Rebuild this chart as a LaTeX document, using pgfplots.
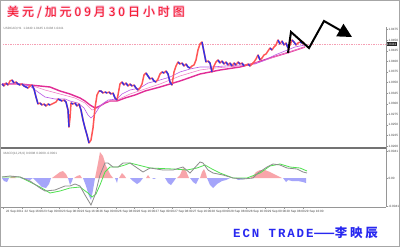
\documentclass[border=0pt]{standalone}
\usepackage{pgfplots}
\pgfplotsset{compat=1.18}
\usepackage{fontspec}
\setmainfont{Liberation Sans}
\newfontfamily\cjkplain{Noto Sans CJK SC}
\newfontfamily\cjkls[LetterSpace=25]{Noto Sans CJK SC}
\newfontfamily\cjkmid[LetterSpace=22]{Noto Sans CJK SC}
\newfontfamily\monols[LetterSpace=15]{Liberation Mono}
\usetikzlibrary{arrows.meta}

\definecolor{bullred}{RGB}{255,85,85}
\definecolor{bearblue}{RGB}{50,50,230}
\definecolor{maslow}{RGB}{225,45,150}
\definecolor{mamid}{RGB}{240,130,200}
\definecolor{mafast}{RGB}{185,90,230}
\definecolor{askdot}{RGB}{245,160,180}
\definecolor{macdgray}{RGB}{140,140,140}
\definecolor{signalgreen}{RGB}{80,225,80}
\definecolor{histred}{RGB}{248,165,170}
\definecolor{histblue}{RGB}{165,165,250}
\definecolor{titlered}{RGB}{245,20,40}
\definecolor{titlepink}{RGB}{250,185,210}
\definecolor{ecnblue}{RGB}{40,40,240}
\definecolor{framegray}{RGB}{150,150,150}

\newcommand\tinyfont{\fontsize{3.1}{3.6}\selectfont}

\begin{document}
\begin{tikzpicture}
\useasboundingbox (0,0) rectangle (400bp,-247bp);
\fill[white] (0,0) rectangle (400bp,-247bp);

% ---------- price panel (H1 candles and moving averages) ----------
\begin{axis}[
  at={(3bp,-147bp)}, anchor=south west,
  scale only axis, width=383bp, height=147bp,
  xmin=3, xmax=386, ymin=0, ymax=147, y dir=reverse,
  axis line style={draw=none},
  clip=false,
  xtick=\empty,
  ytick={29.5,40.1,50.7,61.3,71.9,82.5,93.1,103.7,114.3,124.9,135.5,146.1},
  yticklabels={1.0475,1.0450,1.0425,1.0400,1.0375,1.0350,1.0325,1.0300,1.0275,1.0250,1.0225,1.0200},
  ytick pos=right, yticklabel pos=right,
  tick align=outside, major tick length=1.5bp,
  tick style={framegray, line width=0.3bp},
  yticklabel style={font=\tinyfont, text=black!75, xshift=-2.5bp},
  /pgf/number format/assume math mode=true,
  unbounded coords=jump,
]
% current ask level
\addplot[askdot, densely dotted, line width=0.7bp] coordinates {(3,44) (386,44)};

% moving averages
\addplot[maslow, line width=1.4bp] coordinates {
 (2,84) (20,84) (40,86) (50,87) (60,91) (70,94) (80,98) (85,101) (90,105)
 (95,108) (100,106) (105,103) (110,101) (117,101) (125,98) (135,95) (145,91)
 (160,87) (180,81) (200,74) (220,70) (240,67) (255,63) (270,58) (290,52) (305,47)};
\addplot[mamid, line width=0.6bp] coordinates {
 (2,84) (30,85) (45,90) (60,94) (75,98) (85,103) (92,110) (98,108) (105,102)
 (117,100) (130,94) (145,89) (160,84) (180,76) (200,70) (215,68) (240,66)
 (260,62) (280,55) (305,47)};
\addplot[mafast, line width=0.6bp] coordinates {
 (2,84) (15,83) (30,86) (38,92) (45,97) (55,99) (65,99) (70,101) (78,103)
 (84,108) (88,115) (91,118) (95,114) (100,106) (108,100) (117,99) (122,94)
 (130,90) (140,88) (148,83) (160,80) (170,77) (180,72) (190,69) (200,67)
 (212,67) (225,66) (240,65) (255,64) (265,60) (275,55) (285,51) (295,47) (305,45)};

% price path (rising legs)
\addplot[bullred, line width=1.5bp, line join=round] coordinates {
 (2,84) (4,86) (6,83) (8,85) (10,81) (12,80) (14,83) (16,82) (18,84) (20,85)
 (22,84) (24,86) (26,87) (28,88) (30,86) (32,85) (34,89) (36,97) (38,104)
 (40,103) (42,105) (44,104) (46,106) (48,104) (50,105) (52,104) (54,103)
 (56,102) (58,99) (60,100) (62,101) (64,100) (66,102) (68,110) (69,127)
 (70,118) (71,103) (73,104) (75,103) (77,106) (79,104) (81,110) (83,120)
 (85,128) (87,135) (89,143) (91,140) (93,128) (95,108) (97,95) (99,91)
 (101,91) (103,93) (105,92) (107,93) (109,92) (111,94) (113,93) (115,98)
 (117,100) (118,95) (120,84) (122,82) (124,85) (126,83) (128,86) (130,84)
 (132,86) (134,85) (136,88) (138,90) (140,88) (142,84) (144,75) (146,73)
 (148,76) (150,79) (152,78) (154,81) (156,82) (158,79) (160,74) (162,72)
 (164,73) (166,71) (168,74) (170,82) (172,85) (174,72) (176,66) (178,62)
 (180,64) (182,63) (184,66) (186,64) (188,67) (190,68) (192,66) (194,65)
 (196,60) (198,50) (200,44) (202,42) (204,52) (206,62) (208,61) (210,63)
 (212,72) (214,66) (216,62) (218,60) (220,63) (222,61) (224,64) (226,62)
 (228,65) (230,63) (232,66) (234,63) (236,65) (238,62) (240,64) (242,63)
 (244,66) (246,65) (248,64) (250,66) (252,64) (254,62) (256,59) (258,55)
 (260,60) (262,58) (264,55) (266,54) (268,51) (270,48) (272,50) (274,47)
 (276,45) (278,40) (280,44) (282,41) (284,45) (286,43) (288,48) (290,45)
 (292,40) (294,42) (296,45) (298,43) (300,42) (302,43) (304,42)};

% price path (falling legs)
\addplot[bearblue, line width=1.4bp, line join=round] coordinates {
 (2,84) (4,86) (nan,nan) (6,83) (8,85) (nan,nan) (12,80) (14,83) (nan,nan)
 (16,82) (18,84) (20,85) (nan,nan) (22,84) (24,86) (26,87) (28,88) (nan,nan)
 (32,85) (34,89) (36,97) (38,104) (nan,nan) (40,103) (42,105) (nan,nan)
 (44,104) (46,106) (nan,nan) (48,104) (50,105) (nan,nan)
 (58,99) (60,100) (62,101) (nan,nan) (64,100) (66,102) (68,110) (69,127) (nan,nan)
 (71,103) (73,104) (nan,nan) (75,103) (77,106) (nan,nan)
 (79,104) (81,110) (83,120) (85,128) (87,135) (89,143) (nan,nan)
 (99,91) (101,91) (103,93) (nan,nan) (105,92) (107,93) (nan,nan)
 (109,92) (111,94) (nan,nan) (113,93) (115,98) (117,100) (nan,nan)
 (122,82) (124,85) (nan,nan) (126,83) (128,86) (nan,nan) (130,84) (132,86) (nan,nan)
 (134,85) (136,88) (138,90) (nan,nan) (146,73) (148,76) (150,79) (nan,nan)
 (152,78) (154,81) (156,82) (nan,nan) (162,72) (164,73) (nan,nan)
 (166,71) (168,74) (170,82) (172,85) (nan,nan) (178,62) (180,64) (nan,nan)
 (182,63) (184,66) (nan,nan) (186,64) (188,67) (190,68) (nan,nan)
 (202,42) (204,52) (206,62) (nan,nan) (208,61) (210,63) (212,72) (nan,nan)
 (218,60) (220,63) (nan,nan) (222,61) (224,64) (nan,nan) (226,62) (228,65) (nan,nan)
 (230,63) (232,66) (nan,nan) (234,63) (236,65) (nan,nan) (238,62) (240,64) (nan,nan)
 (242,63) (244,66) (nan,nan) (248,64) (250,66) (nan,nan) (258,55) (260,60) (nan,nan)
 (270,48) (272,50) (nan,nan) (278,40) (280,44) (nan,nan) (282,41) (284,45) (nan,nan)
 (286,43) (288,48) (nan,nan) (292,40) (294,42) (296,45) (nan,nan) (300,42) (302,43)};

% projected path
\addplot[black, line width=2bp, line join=miter,
  -{Triangle[length=14bp,width=14bp]}] coordinates {
 (288,53) (291,32) (309,48) (324,21) (352,37)};

\node[fill=black!85, text=white, font=\tinyfont, inner sep=0.7bp, anchor=west]
  at (axis cs:386,44) {1.0441};
\end{axis}

% ---------- MACD panel ----------
\begin{axis}[
  at={(3bp,-207bp)}, anchor=south west,
  scale only axis, width=383bp, height=58bp,
  xmin=3, xmax=386, ymin=-29, ymax=29,
  axis line style={draw=none},
  clip=false,
  ytick={27,0,-28},
  yticklabels={0.0041,0.00,-0.0041},
  ytick pos=right, yticklabel pos=right,
  xtick={3.5,22.2,40.9,59.6,78.3,97,115.7,134.4,153.1,171.8,190.5,209.2,227.9,246.6,265.3,284,302.7},
  xticklabels={22 Sep 2011,22 Sep 16:00,23 Sep 00:00,23 Sep 08:00,23 Sep 16:00,
    26 Sep 00:00,26 Sep 08:00,26 Sep 16:00,27 Sep 00:00,27 Sep 08:00,27 Sep 16:00,
    28 Sep 00:00,28 Sep 08:00,28 Sep 16:00,29 Sep 00:00,29 Sep 08:00,29 Sep 16:00},
  xtick pos=bottom,
  tick align=outside, major tick length=1.5bp,
  tick style={framegray, line width=0.3bp},
  yticklabel style={font=\tinyfont, text=black!75, xshift=-2.5bp},
  xticklabel style={font=\tinyfont, text=black!75, anchor=north west, xshift=-1bp, yshift=2bp},
  /pgf/number format/assume math mode=true,
  unbounded coords=jump,
]
% histogram above zero
\addplot[fill=histred, draw=none] coordinates {
 (10,0) (12,2) (15,1) (16,0) (nan,nan)
 (52,0) (56,3) (60,6) (63,7) (66,4) (68,0) (nan,nan)
 (74,0) (77,2) (80,3) (82,0) (nan,nan)
 (95,0) (98,15) (100,26) (103,22) (106,12) (110,4) (113,0) (nan,nan)
 (119,0) (122,5) (124,3) (126,0) (nan,nan)
 (146,0) (148,3) (150,0) (nan,nan)
 (177,0) (180,3) (183,10) (186,7) (189,0) (nan,nan)
 (200,0) (202,6) (204,9) (206,4) (207,0) (nan,nan)
 (250,0) (253,2) (256,6) (260,8) (265,8) (270,6) (276,3) (282,0)};
% histogram below zero
\addplot[fill=histblue, draw=none] coordinates {
 (2,0) (4,-3) (7,-4) (9,0) (nan,nan)
 (20,0) (25,-1) (30,-2) (33,0) (nan,nan)
 (33,0) (37,-4) (42,-9) (46,-10) (49,-6) (51,0) (nan,nan)
 (68,0) (70,-7) (72,-3) (73,0) (nan,nan)
 (83,0) (86,-8) (89,-18) (91,-22) (93,-12) (95,0) (nan,nan)
 (115,0) (117,-5) (118,0) (nan,nan)
 (130,0) (133,-3) (137,-6) (140,-4) (143,0) (nan,nan)
 (152,0) (154,-1) (156,0) (nan,nan)
 (165,0) (168,-5) (171,-7) (174,-3) (176,0) (nan,nan)
 (190,0) (193,-4) (196,-6) (199,0) (nan,nan)
 (207,0) (210,-7) (213,-10) (217,-6) (222,-3) (226,-2) (230,0) (nan,nan)
 (235,0) (238,-2) (244,-1) (246,0) (nan,nan)
 (283,0) (286,-4) (288,-2) (292,-3) (298,-3) (303,-4) (306,-5) (306,0)};
% signal line
\addplot[signalgreen, line width=0.8bp] coordinates {
 (2,1) (20,1) (30,-4) (40,-9) (50,-15) (60,-13) (70,-10) (80,-9) (88,-15)
 (92,-19) (96,-16) (100,-7) (105,6) (110,11) (118,11) (125,13) (130,15)
 (150,10) (173,9) (187,8) (197,10) (205,13) (212,9) (220,5) (233,0) (247,0)
 (260,5) (270,12) (280,14) (290,11) (300,10) (307,7)};
% MACD line
\addplot[macdgray, line width=0.8bp] coordinates {
 (2,1) (10,2) (20,1) (30,-3) (40,-10) (45,-13) (55,-12) (65,-8) (70,-8)
 (75,-6) (80,-8) (85,-17) (91,-27) (95,-17) (100,3) (105,15) (108,15)
 (113,11) (118,11) (123,15) (130,15) (143,6) (150,10) (163,8) (173,8)
 (183,11) (190,5) (200,16) (203,15) (208,8) (213,5) (223,3) (233,0)
 (243,-1) (253,0) (258,5) (267,11) (273,14) (280,13) (287,10) (297,9)
 (303,6) (307,5)};
\end{axis}

% ---------- frame and separators ----------
\draw[framegray, line width=0.5bp] (386bp,-27bp) -- (386bp,-207bp);
\draw[black!55, line width=1.6bp] (0,-148bp) -- (386bp,-148bp);
\draw[framegray, line width=0.6bp] (0,-207bp) -- (386bp,-207bp);
\draw[black!60, line width=0.8bp] (0.8bp,-27bp) -- (0.8bp,-247bp);
\draw[black!35, line width=0.6bp] (0.3bp,-0.3bp) rectangle (399.7bp,-246.7bp);

% ---------- texts ----------
\node[anchor=west, inner sep=0, font=\tinyfont, text=black!55] at (3.5bp,-29bp)
  {USDCAD,H1~~1.0440 1.0445 1.0438 1.0441};
\node[anchor=west, inner sep=0, font=\tinyfont, text=black!55] at (3.5bp,-154bp)
  {MACD(12,26,9) 0.0008 0.0009 -0.0001};

\foreach \dx/\dy in {0.5/0.5,-0.5/0.5,0.5/-0.5,-0.5/-0.5}
  \node[anchor=west, inner sep=0, text=titlepink, font=\fontsize{12}{14}\cjkls]
    at (7bp+\dx bp,-12.5bp+\dy bp) {美元/加元09月30日小时图};
\node[anchor=west, inner sep=0, text=titlered, font=\fontsize{12}{14}\cjkls]
  at (7bp,-12.5bp) {美元/加元09月30日小时图};

\node[anchor=west, inner sep=0, text=ecnblue] at (233bp,-233bp)
  {\fontsize{12.5}{14}\monols\bfseries ECN TRADE{\cjkplain\bfseries ——}\cjkmid\bfseries 李映辰};
\end{tikzpicture}
\end{document}
